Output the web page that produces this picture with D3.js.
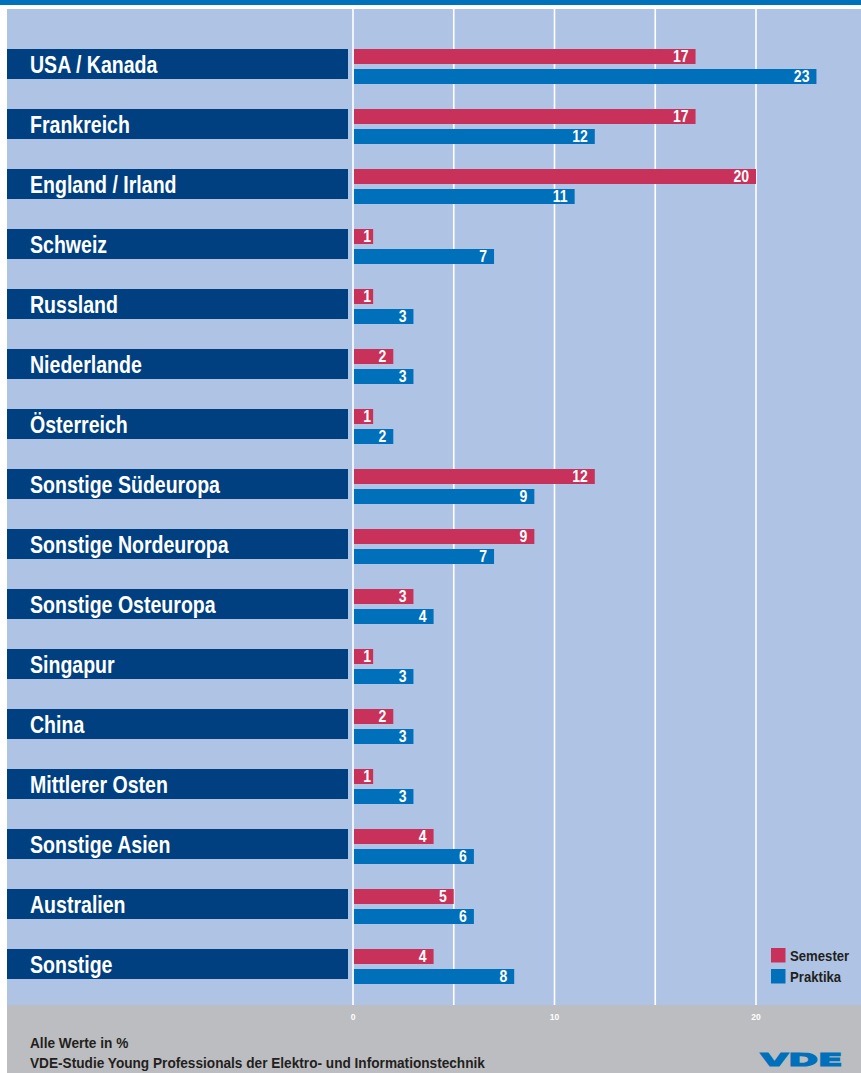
<!DOCTYPE html>
<html>
<head>
<meta charset="utf-8">
<script src="https://cdn.jsdelivr.net/npm/d3@7"></script>
<style>
  body { margin: 0; background: #fff; }
  svg text { font-family: "Liberation Sans", Arial, sans-serif; font-weight: bold; }
</style>
</head>
<body>
<div class="js-d3"></div>
<script>
const categories = [
  "USA / Kanada", "Frankreich", "England / Irland", "Schweiz", "Russland",
  "Niederlande", "Österreich", "Sonstige Südeuropa", "Sonstige Nordeuropa",
  "Sonstige Osteuropa", "Singapur", "China", "Mittlerer Osten",
  "Sonstige Asien", "Australien", "Sonstige"
];
const semester = [17, 17, 20, 1, 1, 2, 1, 12, 9, 3, 1, 2, 1, 4, 5, 4];
const praktika = [23, 12, 11, 7, 3, 3, 2, 9, 7, 4, 3, 3, 3, 6, 6, 8];
const gridTicks = [0, 5, 10, 15, 20];
const labelTicks = [0, 10, 20];
const seriesNames = ["Semester", "Praktika"];

const W = 861;
const H = 1073;
const colors = {
  band: "#0072bc",
  panel: "#afc4e4",
  box: "#003f80",
  semester: "#c8325a",
  praktika: "#0070ba",
  footer: "#bcbdc1",
  ink: "#231f20"
};

const panelTop = 9;
const panelBottom = 1005;
// condensed look: squeeze a normal bold sans horizontally
const narrow = 0.85;

const svg = d3.select(".js-d3")
  .append("svg")
  .attr("width", W)
  .attr("height", H);

// backgrounds
svg.append("rect").attr("x", 0).attr("y", 0).attr("width", W).attr("height", 5)
  .attr("fill", colors.band);
svg.append("rect").attr("x", 7).attr("y", panelTop).attr("width", W - 7)
  .attr("height", panelBottom - panelTop).attr("fill", colors.panel);
svg.append("rect").attr("x", 7).attr("y", panelBottom).attr("width", W - 7)
  .attr("height", H - panelBottom).attr("fill", colors.footer);

const x = d3.scaleLinear().domain([0, 25]).range([353, 353 + 25 * 20.15]);
const y = d3.scaleBand().domain(categories).range([49, 49 + categories.length * 60]);

// grid
svg.append("g")
  .selectAll("line")
  .data(gridTicks)
  .enter()
  .append("line")
  .attr("x1", (d) => x(d))
  .attr("x2", (d) => x(d))
  .attr("y1", panelTop)
  .attr("y2", panelBottom)
  .attr("stroke", "#fff")
  .attr("stroke-width", 1.6);

svg.append("g")
  .selectAll("text")
  .data(labelTicks)
  .enter()
  .append("text")
  .attr("transform", (d) => `translate(${x(d)}, 1019.5) scale(0.9, 1)`)
  .attr("text-anchor", "middle")
  .attr("fill", "#fff")
  .attr("font-size", 9.5)
  .text((d) => d);

const rows = svg.append("g")
  .selectAll("g")
  .data(categories)
  .enter()
  .append("g")
  .attr("transform", (d) => `translate(0, ${y(d)})`);

rows.append("rect")
  .attr("x", 7)
  .attr("y", 0)
  .attr("width", 341)
  .attr("height", 30)
  .attr("fill", colors.box);

rows.append("text")
  .attr("transform", `translate(30, 24) scale(${narrow}, 1)`)
  .attr("fill", "#fff")
  .attr("font-size", 23)
  .text((d) => d);

const series = [
  { key: "semester", values: semester, offset: 0, color: colors.semester },
  { key: "praktika", values: praktika, offset: 20, color: colors.praktika }
];

// value label sits inside the bar end, but never too far left on tiny bars
const labelX = (v) => Math.max(x(v) - 7, x(0) + 18);

series.forEach((s) => {
  rows.append("rect")
    .attr("x", x(0) + 1)
    .attr("y", s.offset)
    .attr("width", (d, i) => x(s.values[i]) - x(0) - 1)
    .attr("height", 15)
    .attr("fill", s.color);

  rows.append("text")
    .attr("transform", (d, i) =>
      `translate(${labelX(s.values[i])}, ${s.offset + 13.3}) scale(0.85, 1)`)
    .attr("text-anchor", "end")
    .attr("fill", "#fff")
    .attr("font-size", 16.5)
    .text((d, i) => s.values[i]);
});

// legend
const legend = svg.append("g").attr("transform", "translate(771, 948)");
seriesNames.forEach((name, i) => {
  legend.append("rect")
    .attr("x", 0)
    .attr("y", i * 21)
    .attr("width", 14.5)
    .attr("height", 14.5)
    .attr("fill", i === 0 ? colors.semester : colors.praktika);
  legend.append("text")
    .attr("transform", `translate(19, ${i * 21 + 12.7}) scale(0.94, 1)`)
    .attr("fill", colors.ink)
    .attr("font-size", 14)
    .text(name);
});

// footer
svg.append("text")
  .attr("transform", `translate(30, 1048.3) scale(0.91, 1)`)
  .attr("fill", colors.ink).attr("font-size", 15)
  .text("Alle Werte in %");
svg.append("text")
  .attr("transform", `translate(30, 1068) scale(0.91, 1)`)
  .attr("fill", colors.ink).attr("font-size", 15)
  .text("VDE-Studie Young Professionals der Elektro- und Informationstechnik");

svg.append("text")
  .attr("x", 760.5).attr("y", 1066)
  .attr("textLength", 82)
  .attr("lengthAdjust", "spacingAndGlyphs")
  .attr("fill", colors.praktika)
  .attr("stroke", colors.praktika)
  .attr("stroke-width", 1.2)
  .attr("font-size", 18)
  .style("font-family", "'DejaVu Sans', sans-serif")
  .style("font-weight", "bold")
  .text("VDE");
</script>
</body>
</html>
